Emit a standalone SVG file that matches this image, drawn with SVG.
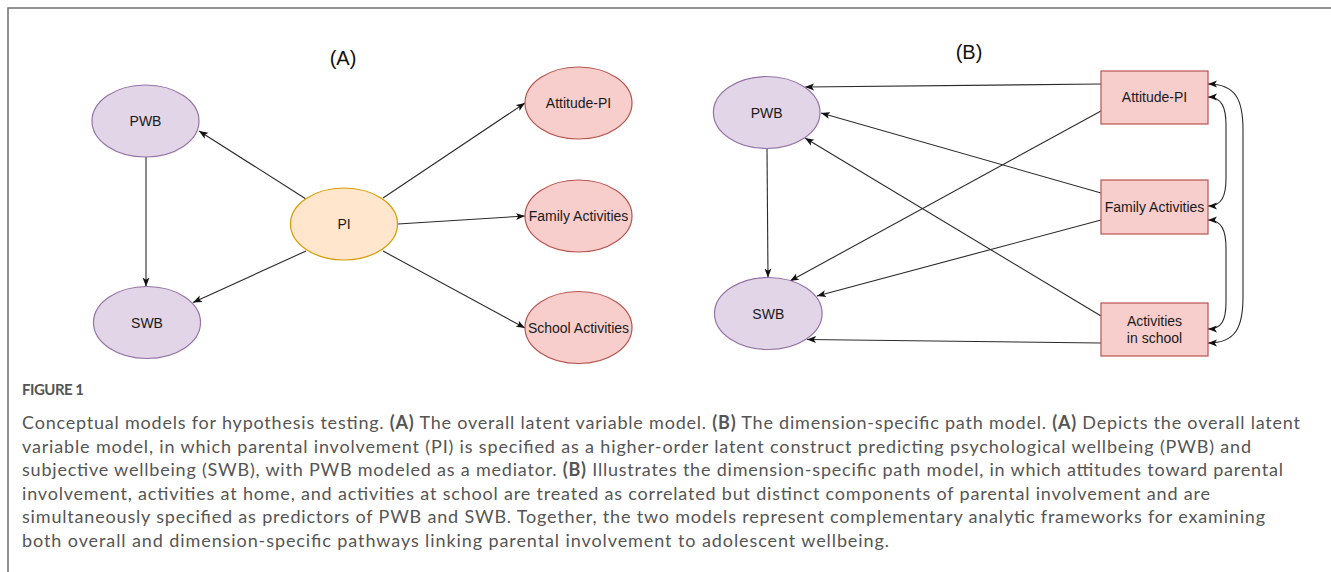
<svg xmlns="http://www.w3.org/2000/svg" width="1331" height="572" viewBox="0 0 1331 572">
<style>
.lat{fill:#e1d5e7;stroke:#9673a6;stroke-width:1.2}
.pi{fill:#ffe6cc;stroke:#d79b00;stroke-width:1.2}
.obs{fill:#f8cecc;stroke:#b85450;stroke-width:1.2}
.lbl{font-family:"Liberation Sans",Arial,sans-serif;font-size:14px;fill:#1a1a1a;text-anchor:middle}
.ttl{font-family:"Liberation Sans",Arial,sans-serif;font-size:20px;fill:#111;text-anchor:middle}
.edge{fill:none;stroke:#2b2b2b;stroke-width:1.1;marker-end:url(#arr)}
.both{marker-start:url(#arr)}
.cap{font-family:Lato,"Open Sans",sans-serif;font-size:18px;fill:#555}
.fig{font-family:Lato,"Open Sans",sans-serif;font-size:15px;font-weight:bold;fill:#555}
</style>
<defs>
<marker id="arr" markerUnits="userSpaceOnUse" markerWidth="10" markerHeight="8" refX="9" refY="4" orient="auto-start-reverse">
<path d="M0,0.5 L9,4 L0,7.5 L2.2,4 Z" fill="#111"/>
</marker>
</defs>
<rect width="1331" height="572" fill="#fff"/>
<path d="M8,572 V8 H1331" fill="none" stroke="#6e6e6e" stroke-width="1.5"/>

<text class="ttl" x="343" y="65">(A)</text>
<text class="ttl" x="969" y="59">(B)</text>

<g id="connectors">
<path class="edge" d="M306,199 L199,131"/>
<path class="edge" d="M306,251 L193,302.5"/>
<path class="edge" d="M146,157 L146,286.5"/>
<path class="edge" d="M383,198 L525,103"/>
<path class="edge" d="M398,224 L525,216"/>
<path class="edge" d="M383,251 L525,328"/>
<path class="edge" d="M1101,84 L805,87"/>
<path class="edge" d="M1101,111 L790,281"/>
<path class="edge" d="M1101,193 L821,113"/>
<path class="edge" d="M1101,220 L817,296"/>
<path class="edge" d="M1101,316 L805,138"/>
<path class="edge" d="M1101,343 L807,339.5"/>
<path class="edge" d="M767,148.5 L768,277.5"/>
<path class="edge both" d="M1208,84 C1236,84 1243,100 1243,130 L1243,297 C1243,327 1236,343 1208,343"/>
<path class="edge both" d="M1208,97 C1222,97 1226,108 1226,125 L1226,178 C1226,196 1222,206 1208,206"/>
<path class="edge both" d="M1208,220 C1222,220 1226,231 1226,248 L1226,302 C1226,320 1222,329 1208,329"/>
</g>

<g id="a-pwb"><ellipse class="lat" cx="145.5" cy="121" rx="53.5" ry="36"/><text class="lbl" x="145.5" y="126">PWB</text></g>
<g id="a-swb"><ellipse class="lat" cx="147" cy="322.5" rx="53.5" ry="36"/><text class="lbl" x="147" y="327.5">SWB</text></g>
<g id="a-pi"><ellipse class="pi" cx="344" cy="224" rx="53.5" ry="36"/><text class="lbl" x="344" y="229">PI</text></g>
<g id="a-att"><ellipse class="obs" cx="578.5" cy="103" rx="53.5" ry="36"/><text class="lbl" x="578.5" y="108">Attitude-PI</text></g>
<g id="a-fam"><ellipse class="obs" cx="578.5" cy="216" rx="53.5" ry="36"/><text class="lbl" x="578.5" y="221">Family Activities</text></g>
<g id="a-sch"><ellipse class="obs" cx="578.5" cy="327.5" rx="53.5" ry="36"/><text class="lbl" x="578.5" y="332.5">School Activities</text></g>

<g id="b-pwb"><ellipse class="lat" cx="766.7" cy="112.5" rx="53.3" ry="36"/><text class="lbl" x="766.7" y="117.5">PWB</text></g>
<g id="b-swb"><ellipse class="lat" cx="768.3" cy="313.5" rx="53.8" ry="36"/><text class="lbl" x="768.3" y="318.5">SWB</text></g>
<g id="b-att"><rect class="obs" x="1101" y="71" width="107" height="53"/><text class="lbl" x="1154.5" y="102">Attitude-PI</text></g>
<g id="b-fam"><rect class="obs" x="1101" y="180" width="107" height="54"/><text class="lbl" x="1154.5" y="212">Family Activities</text></g>
<g id="b-sch"><rect class="obs" x="1101" y="303" width="107" height="53"/><text class="lbl" x="1154.5" y="326">Activities</text><text class="lbl" x="1154.5" y="343">in school</text></g>

<g id="caption">
<text class="fig" x="22" y="395" textLength="62">FIGURE 1</text>
<text class="cap" x="22" y="429" textLength="1278">Conceptual models for hypothesis testing. <tspan font-weight="bold">(A)</tspan> The overall latent variable model. <tspan font-weight="bold">(B)</tspan> The dimension-specific path model. <tspan font-weight="bold">(A)</tspan> Depicts the overall latent</text>
<text class="cap" x="22" y="452.5" textLength="1229">variable model, in which parental involvement (PI) is specified as a higher-order latent construct predicting psychological wellbeing (PWB) and</text>
<text class="cap" x="22" y="476" textLength="1261">subjective wellbeing (SWB), with PWB modeled as a mediator. <tspan font-weight="bold">(B)</tspan> Illustrates the dimension-specific path model, in which attitudes toward parental</text>
<text class="cap" x="22" y="499.5" textLength="1188">involvement, activities at home, and activities at school are treated as correlated but distinct components of parental involvement and are</text>
<text class="cap" x="22" y="523" textLength="1243">simultaneously specified as predictors of PWB and SWB. Together, the two models represent complementary analytic frameworks for examining</text>
<text class="cap" x="22" y="546.5" textLength="867">both overall and dimension-specific pathways linking parental involvement to adolescent wellbeing.</text>
</g>
</svg>
